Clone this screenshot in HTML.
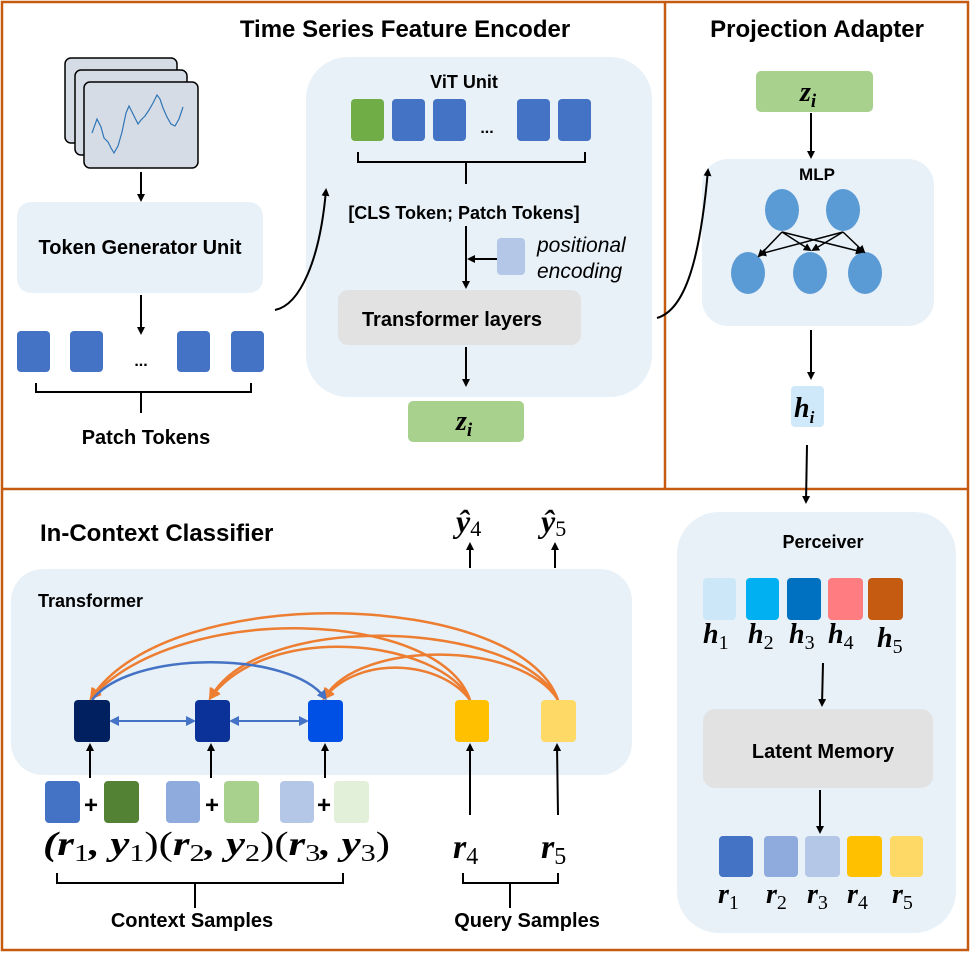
<!DOCTYPE html>
<html><head><meta charset="utf-8"><style>
html,body{margin:0;padding:0;background:#fff}
svg{display:block}
.t{font-family:"Liberation Sans",sans-serif;font-weight:bold;fill:#000}
.m{font-family:"Liberation Serif",serif;font-weight:bold;font-style:italic;fill:#000}
.sub{font-family:"Liberation Serif",serif;font-weight:normal;font-style:normal}
</style></head><body>
<svg width="976" height="954" viewBox="0 0 976 954" xmlns="http://www.w3.org/2000/svg">
<defs>
<marker id="a" markerWidth="8" markerHeight="8" refX="6" refY="4" orient="auto" markerUnits="userSpaceOnUse"><path d="M0,0 L8,4 L0,8 Z" fill="#000"/></marker>
<marker id="ab" markerWidth="10" markerHeight="10" refX="7" refY="5" orient="auto-start-reverse" markerUnits="userSpaceOnUse"><path d="M0,0 L10,5 L0,10 Z" fill="#4472c4"/></marker>
<marker id="ao" markerWidth="12" markerHeight="12" refX="8" refY="6" orient="auto" markerUnits="userSpaceOnUse"><path d="M0,0 L12,6 L0,12 Z" fill="#ed7d31"/></marker>
</defs>
<g stroke="#c55a11" stroke-width="2.5" fill="none">
<rect x="2" y="2" width="966" height="948"/>
<line x1="2" y1="489" x2="968" y2="489"/>
<line x1="665" y1="2" x2="665" y2="489"/>
</g>
<text class="t" x="405" y="37" font-size="24" text-anchor="middle">Time Series Feature Encoder</text>
<text class="t" x="817" y="37" font-size="24" text-anchor="middle">Projection Adapter</text>

<g fill="#d6dce5" stroke="#000" stroke-width="1.5">
<rect x="65" y="58" width="112" height="85" rx="6"/>
<rect x="75" y="70" width="112" height="85" rx="6"/>
<rect x="84" y="82" width="114" height="86" rx="6"/>
</g>
<polyline fill="none" stroke="#2e75b6" stroke-width="1.2" points="92,133 97,119 101,127 104,138 108,142 111,148 114,153 118,146 122,132 126,113 129,106 132,112 135,118 138,124 141,120 145,116 149,110 153,103 157,95 160,99 163,108 167,117 171,124 175,126 179,119 183,107"/>
<line x1="141" y1="172" x2="141" y2="200" stroke="#000" stroke-width="2" marker-end="url(#a)"/>
<rect x="17" y="202" width="246" height="91" rx="14" fill="#e8f1f8"/>
<text class="t" x="140" y="254" font-size="20" text-anchor="middle">Token Generator Unit</text>
<line x1="141" y1="295" x2="141" y2="333" stroke="#000" stroke-width="2" marker-end="url(#a)"/>
<g fill="#4472c4">
<rect x="17" y="331" width="33" height="41" rx="4"/>
<rect x="70" y="331" width="33" height="41" rx="4"/>
<rect x="177" y="331" width="33" height="41" rx="4"/>
<rect x="231" y="331" width="33" height="41" rx="4"/>
</g>
<text class="t" x="141" y="366" font-size="16" text-anchor="middle">...</text>
<path d="M36,383 V392 H251 V383 M141,392 V413" fill="none" stroke="#000" stroke-width="2"/>
<text class="t" x="146" y="444" font-size="20" text-anchor="middle">Patch Tokens</text>

<rect x="306" y="57" width="346" height="340" rx="42" fill="#e8f1f8"/>
<path d="M275,310 C300,305 320,260 326,190" fill="none" stroke="#000" stroke-width="2" marker-end="url(#a)"/>
<text class="t" x="464" y="88" font-size="18" text-anchor="middle">ViT Unit</text>
<rect x="351" y="99" width="33" height="42" rx="4" fill="#70ad47"/>
<g fill="#4472c4">
<rect x="392" y="99" width="33" height="42" rx="4"/>
<rect x="433" y="99" width="33" height="42" rx="4"/>
<rect x="517" y="99" width="33" height="42" rx="4"/>
<rect x="558" y="99" width="33" height="42" rx="4"/>
</g>
<text class="t" x="487" y="133" font-size="16" text-anchor="middle">...</text>
<path d="M358,152 V162 H585 V152 M466,162 V184" fill="none" stroke="#000" stroke-width="2"/>
<text class="t" x="464" y="219" font-size="18" text-anchor="middle">[CLS Token; Patch Tokens]</text>
<line x1="466" y1="226" x2="466" y2="287" stroke="#000" stroke-width="2" marker-end="url(#a)"/>
<line x1="497" y1="259" x2="469" y2="259" stroke="#000" stroke-width="2" marker-end="url(#a)"/>
<rect x="497" y="238" width="28" height="37" rx="4" fill="#b4c7e7"/>
<text x="537" y="252" font-size="21" font-style="italic" font-family="Liberation Sans,sans-serif" fill="#000">positional</text>
<text x="537" y="278" font-size="21" font-style="italic" font-family="Liberation Sans,sans-serif" fill="#000">encoding</text>
<rect x="338" y="290" width="243" height="55" rx="10" fill="#e2e2e2"/>
<text class="t" x="452" y="326" font-size="20" text-anchor="middle">Transformer layers</text>
<line x1="466" y1="347" x2="466" y2="385" stroke="#000" stroke-width="2" marker-end="url(#a)"/>
<rect x="408" y="401" width="116" height="41" rx="5" fill="#a9d18e"/>
<text class="m" x="456" y="430" font-size="28">z<tspan font-size="19" dy="6">i</tspan></text>

<rect x="756" y="71" width="117" height="41" rx="5" fill="#a9d18e"/>
<text class="m" x="800" y="101" font-size="28">z<tspan font-size="19" dy="6">i</tspan></text>
<line x1="811" y1="113" x2="811" y2="157" stroke="#000" stroke-width="2" marker-end="url(#a)"/>
<rect x="702" y="159" width="232" height="167" rx="26" fill="#e8f1f8"/>
<path d="M657,318 C685,310 700,260 708,170" fill="none" stroke="#000" stroke-width="2" marker-end="url(#a)"/>
<text class="t" x="817" y="180" font-size="17" text-anchor="middle">MLP</text>
<g fill="#5b9bd5">
<ellipse cx="782" cy="210" rx="17" ry="21"/>
<ellipse cx="843" cy="210" rx="17" ry="21"/>
<ellipse cx="748" cy="273" rx="17" ry="21"/>
<ellipse cx="810" cy="273" rx="17" ry="21"/>
<ellipse cx="865" cy="273" rx="17" ry="21"/>
</g>
<g stroke="#000" stroke-width="1.5" fill="none" marker-end="url(#a)">
<line x1="782" y1="232" x2="759" y2="256"/>
<line x1="782" y1="232" x2="810" y2="250"/>
<line x1="782" y1="232" x2="862" y2="252"/>
<line x1="843" y1="232" x2="760" y2="254"/>
<line x1="843" y1="232" x2="813" y2="250"/>
<line x1="843" y1="232" x2="864" y2="252"/>
</g>
<line x1="811" y1="330" x2="811" y2="378" stroke="#000" stroke-width="2" marker-end="url(#a)"/>
<rect x="791" y="386" width="33" height="41" rx="4" fill="#cfe9fb"/>
<text class="m" x="794" y="417" font-size="28">h<tspan font-size="17" dy="6">i</tspan></text>
<line x1="807" y1="445" x2="806" y2="502" stroke="#000" stroke-width="2" marker-end="url(#a)"/>

<rect x="677" y="512" width="279" height="421" rx="42" fill="#e8f1f8"/>
<text class="t" x="823" y="548" font-size="18" text-anchor="middle">Perceiver</text>
<rect x="703" y="578" width="33" height="42" rx="4" fill="#cce8f8"/>
<rect x="746" y="578" width="33" height="42" rx="4" fill="#00b0f0"/>
<rect x="787" y="578" width="34" height="42" rx="4" fill="#0070c0"/>
<rect x="828" y="578" width="35" height="42" rx="4" fill="#ff7c80"/>
<rect x="868" y="578" width="35" height="42" rx="4" fill="#c55a11"/>
<g class="m" font-size="28">
<text x="703" y="643">h<tspan class="sub" font-size="20" dy="6">1</tspan></text>
<text x="748" y="643">h<tspan class="sub" font-size="20" dy="6">2</tspan></text>
<text x="789" y="643">h<tspan class="sub" font-size="20" dy="6">3</tspan></text>
<text x="828" y="643">h<tspan class="sub" font-size="20" dy="6">4</tspan></text>
<text x="877" y="647">h<tspan class="sub" font-size="20" dy="6">5</tspan></text>
</g>
<line x1="823" y1="663" x2="822" y2="705" stroke="#000" stroke-width="2" marker-end="url(#a)"/>
<rect x="703" y="709" width="230" height="79" rx="12" fill="#e2e2e2"/>
<text class="t" x="823" y="758" font-size="20" text-anchor="middle">Latent  Memory</text>
<line x1="820" y1="790" x2="820" y2="832" stroke="#000" stroke-width="2" marker-end="url(#a)"/>
<rect x="719" y="836" width="34" height="41" rx="4" fill="#4472c4"/>
<rect x="764" y="836" width="34" height="41" rx="4" fill="#8faadc"/>
<rect x="805" y="836" width="35" height="41" rx="4" fill="#b4c7e7"/>
<rect x="847" y="836" width="35" height="41" rx="4" fill="#ffc000"/>
<rect x="890" y="836" width="33" height="41" rx="4" fill="#ffd966"/>
<g class="m" font-size="28">
<text x="718" y="903">r<tspan class="sub" font-size="20" dy="6">1</tspan></text>
<text x="766" y="903">r<tspan class="sub" font-size="20" dy="6">2</tspan></text>
<text x="807" y="903">r<tspan class="sub" font-size="20" dy="6">3</tspan></text>
<text x="847" y="903">r<tspan class="sub" font-size="20" dy="6">4</tspan></text>
<text x="892" y="903">r<tspan class="sub" font-size="20" dy="6">5</tspan></text>
</g>

<text class="t" x="40" y="541" font-size="24">In-Context Classifier</text>
<text class="m" x="456" y="532" font-size="32">ŷ<tspan class="sub" font-size="22" dy="4">4</tspan></text>
<text class="m" x="541" y="532" font-size="32">ŷ<tspan class="sub" font-size="22" dy="4">5</tspan></text>
<line x1="470" y1="568" x2="470" y2="544" stroke="#000" stroke-width="2" marker-end="url(#a)"/>
<line x1="555" y1="568" x2="555" y2="544" stroke="#000" stroke-width="2" marker-end="url(#a)"/>
<rect x="11" y="569" width="621" height="206" rx="32" fill="#e8f1f8"/>
<text class="t" x="38" y="607" font-size="18">Transformer</text>

<g fill="none" stroke="#ed7d31" stroke-width="2.5" marker-end="url(#ao)">
<path d="M470,700 C440,610 180,600 92,697"/>
<path d="M470,700 C440,640 270,620 211,697"/>
<path d="M470,700 C440,660 360,655 325,697"/>
<path d="M558,700 C520,590 170,580 92,697"/>
<path d="M558,700 C520,620 260,610 211,697"/>
<path d="M558,700 C520,640 360,640 325,697"/>
</g>
<path d="M92,700 C130,650 290,650 325,698" fill="none" stroke="#4472c4" stroke-width="2.5" marker-end="url(#ab)"/>
<line x1="112" y1="721" x2="193" y2="721" stroke="#4472c4" stroke-width="2" marker-start="url(#ab)" marker-end="url(#ab)"/>
<line x1="232" y1="721" x2="306" y2="721" stroke="#4472c4" stroke-width="2" marker-start="url(#ab)" marker-end="url(#ab)"/>
<rect x="74" y="700" width="36" height="42" rx="4" fill="#002060"/>
<rect x="195" y="700" width="35" height="42" rx="4" fill="#0a3299"/>
<rect x="308" y="700" width="35" height="42" rx="4" fill="#0050e6"/>
<rect x="455" y="700" width="34" height="42" rx="4" fill="#ffc000"/>
<rect x="541" y="700" width="35" height="42" rx="4" fill="#ffd966"/>
<g stroke="#000" stroke-width="2" marker-end="url(#a)">
<line x1="90" y1="778" x2="90" y2="745"/>
<line x1="211" y1="778" x2="211" y2="745"/>
<line x1="325" y1="778" x2="325" y2="745"/>
<line x1="470" y1="815" x2="470" y2="745"/>
<line x1="558" y1="815" x2="557" y2="745"/>
</g>
<rect x="45" y="781" width="35" height="42" rx="4" fill="#4472c4"/>
<rect x="104" y="781" width="35" height="42" rx="4" fill="#548235"/>
<rect x="166" y="781" width="34" height="42" rx="4" fill="#8faadc"/>
<rect x="224" y="781" width="35" height="42" rx="4" fill="#a9d18e"/>
<rect x="280" y="781" width="34" height="42" rx="4" fill="#b4c7e7"/>
<rect x="334" y="781" width="35" height="42" rx="4" fill="#e2f0d9"/>
<g class="t" font-size="24" text-anchor="middle">
<text x="91" y="813">+</text><text x="212" y="813">+</text><text x="324" y="813">+</text>
</g>
<text class="m" x="43" y="855" font-size="34" textLength="347" lengthAdjust="spacingAndGlyphs">(r<tspan class="sub" font-size="24" dy="6">1</tspan><tspan dy="-6">, y</tspan><tspan class="sub" font-size="24" dy="6">1</tspan><tspan class="sub" dy="-6">)(</tspan>r<tspan class="sub" font-size="24" dy="6">2</tspan><tspan dy="-6">, y</tspan><tspan class="sub" font-size="24" dy="6">2</tspan><tspan class="sub" dy="-6">)(</tspan>r<tspan class="sub" font-size="24" dy="6">3</tspan><tspan dy="-6">, y</tspan><tspan class="sub" font-size="24" dy="6">3</tspan><tspan class="sub" dy="-6">)</tspan></text>
<text class="m" x="453" y="858" font-size="34">r<tspan class="sub" font-size="24" dy="6">4</tspan></text>
<text class="m" x="541" y="858" font-size="34">r<tspan class="sub" font-size="24" dy="6">5</tspan></text>
<path d="M57,873 V883 H343 V873 M195,883 V908" fill="none" stroke="#000" stroke-width="2"/>
<path d="M463,873 V883 H558 V873 M510,883 V908" fill="none" stroke="#000" stroke-width="2"/>
<text class="t" x="192" y="927" font-size="20" text-anchor="middle">Context Samples</text>
<text class="t" x="527" y="927" font-size="20" text-anchor="middle">Query Samples</text>
</svg>
</body></html>
